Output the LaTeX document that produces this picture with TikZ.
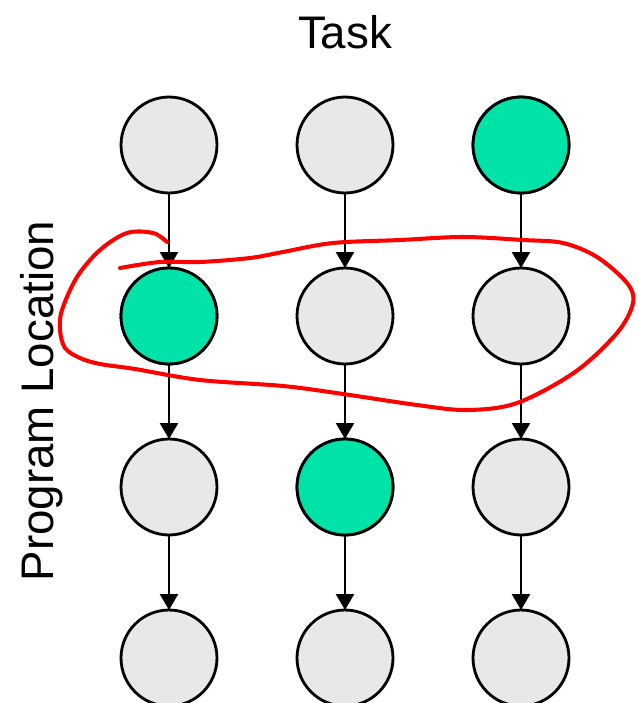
\documentclass[tikz,border=0pt]{standalone}
\usepackage{fontspec}
\setmainfont{Liberation Sans}
\usetikzlibrary{arrows.meta}

\definecolor{cellGray}{RGB}{232,232,232}
\definecolor{cellGreen}{RGB}{0,227,168}

\begin{document}
\begin{tikzpicture}
[x=0.02cm,y=-0.02cm,
  cellDecorate/.style={shape=circle,minimum size=1.92cm,inner sep=0pt,
    outer sep=0pt,draw,line width=1.6pt,fill=cellGray},%
  hitDecorate/.style={cellDecorate,fill=cellGreen},%
  flowDecorate/.style={line width=1.4pt,-{Triangle[length=0.32cm,width=0.36cm]}},%
  labelDecorate/.style={font=\fontsize{26}{30}\selectfont}]
\useasboundingbox (0,0) rectangle (637,703);
%% axis labels
\node[labelDecorate] (task) at (345,32) {Task};
\node[labelDecorate,rotate=90] (loc) at (42,401) {Program Location};
%% cells: column/row/style
\foreach \c/\x in {1/169, 2/345, 3/521}
{
  \foreach \r/\y in {1/145, 2/316, 3/487, 4/658}
  {
    \node (n\r\c) at (\x,\y) [cellDecorate] {};
  }
}
\foreach \r/\c in {1/3, 2/1, 3/2}
{
  \node at (n\r\c) [hitDecorate] {};
}
%% flow down each column
\foreach \c in {1,2,3}
{
  \foreach \r/\s in {1/2, 2/3, 3/4}
  {
    \draw[flowDecorate] (n\r\c) -- (n\s\c);
  }
}
%% hand-drawn loop round the second row
\draw[red,line width=2.3pt,line cap=round,line join=round]
  plot[smooth,tension=0.55] coordinates {
  (167,242) (153,233) (127,233) (100,250) (77,277) (62,310) (60,330)
  (65,348) (80,358) (100,364) (135,369) (200,380) (283,386) (343,394)
  (417,405) (467,410) (517,403) (575,372) (617,333) (633,303) (627,283)
  (597,257) (563,243) (523,240) (463,237) (400,240) (333,243) (283,252)
  (250,258) (200,262) (160,262) (120,268)};
\end{tikzpicture}
\end{document}
